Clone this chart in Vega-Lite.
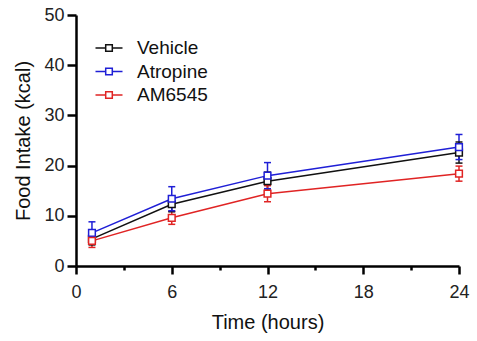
{
  "$schema": "https://vega.github.io/schema/vega-lite/v6.json",
  "autosize": {"type": "none"},
  "padding": {"left": 76, "top": 15, "right": 18, "bottom": 75},
  "width": 383,
  "height": 251,
  "background": "white",
  "config": {
    "view": {"stroke": null},
    "font": "Liberation Sans",
    "axis": {
      "domainColor": "black", "domainWidth": 2.5, "tickColor": "black", "tickWidth": 2.5,
      "labelColor": "#222", "titleColor": "#111", "labelFont": "Liberation Sans", "titleFont": "Liberation Sans",
      "labelFontSize": 18, "titleFontSize": 20, "titleFontWeight": "normal", "grid": false
    },
    "legend": {"symbolFillColor": "white"}
  },
  "data": {
    "values": [
      {"group": "Vehicle", "t": 1, "mean": 5.4, "lo": 4.2, "hi": 6.6},
      {"group": "Vehicle", "t": 6, "mean": 12.3, "lo": 10.8, "hi": 13.8},
      {"group": "Vehicle", "t": 12, "mean": 16.9, "lo": 15.1, "hi": 18.7},
      {"group": "Vehicle", "t": 24, "mean": 22.6, "lo": 20.5, "hi": 24.7},
      {"group": "Atropine", "t": 1, "mean": 6.6, "lo": 4.4, "hi": 8.8},
      {"group": "Atropine", "t": 6, "mean": 13.4, "lo": 11.0, "hi": 15.8},
      {"group": "Atropine", "t": 12, "mean": 18.0, "lo": 15.4, "hi": 20.6},
      {"group": "Atropine", "t": 24, "mean": 23.7, "lo": 21.2, "hi": 26.2},
      {"group": "AM6545", "t": 1, "mean": 5.0, "lo": 3.7, "hi": 6.3},
      {"group": "AM6545", "t": 6, "mean": 9.6, "lo": 8.3, "hi": 10.9},
      {"group": "AM6545", "t": 12, "mean": 14.4, "lo": 12.8, "hi": 16.0},
      {"group": "AM6545", "t": 24, "mean": 18.4, "lo": 16.9, "hi": 19.9}
    ]
  },
  "encoding": {
    "x": {
      "field": "t", "type": "quantitative",
      "scale": {"domain": [0, 24], "nice": false},
      "axis": {
        "title": "Time (hours)", "values": [0, 3, 6, 9, 12, 15, 18, 21, 24],
        "labelExpr": "datum.value % 6 === 0 ? datum.label : ''",
        "tickSize": {"condition": {"test": "datum.value % 6 === 0", "value": 8}, "value": 4},
        "labelPadding": 9, "titlePadding": 11, "labelFlush": false
      }
    },
    "color": {
      "field": "group", "type": "nominal",
      "scale": {"domain": ["Vehicle", "Atropine", "AM6545"], "range": ["#111111", "#1f1fd6", "#e02424"]},
      "legend": {
        "title": null, "orient": "none", "legendX": 22, "legendY": 22,
        "symbolType": "M-1.35,0H-0.33M0.33,0H1.35M-0.33,-0.33H0.33V0.33H-0.33Z",
        "symbolSize": 400, "symbolStrokeWidth": 1.5, "symbolFillColor": "white", "symbolOpacity": 1,
        "labelFontSize": 19, "labelFont": "Liberation Sans", "labelColor": "#111",
        "labelOffset": 17, "rowPadding": 2.5, "padding": 0
      }
    }
  },
  "layer": [
    {
      "mark": {"type": "rule", "strokeWidth": 1.5},
      "encoding": {
        "y": {"field": "lo", "type": "quantitative"},
        "y2": {"field": "hi"}
      }
    },
    {
      "mark": {"type": "rule", "strokeWidth": 1.5, "xOffset": -3.5, "x2Offset": 3.5},
      "encoding": {"x2": {"field": "t"}, "y": {"field": "hi", "type": "quantitative"}}
    },
    {
      "mark": {"type": "rule", "strokeWidth": 1.5, "xOffset": -3.5, "x2Offset": 3.5},
      "encoding": {"x2": {"field": "t"}, "y": {"field": "lo", "type": "quantitative"}}
    },
    {
      "mark": {"type": "line", "strokeWidth": 1.5},
      "encoding": {
        "y": {
          "field": "mean", "type": "quantitative",
          "scale": {"domain": [0, 50], "nice": false},
          "axis": {"title": "Food Intake (kcal)", "values": [0, 10, 20, 30, 40, 50], "tickSize": 9, "labelPadding": 3, "titlePadding": 10}
        }
      }
    },
    {
      "mark": {"type": "point", "shape": "square", "filled": false, "fill": "white", "size": 45, "strokeWidth": 1.5, "opacity": 1},
      "encoding": {
        "y": {"field": "mean", "type": "quantitative"}
      }
    }
  ]
}
